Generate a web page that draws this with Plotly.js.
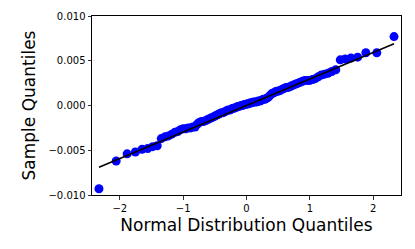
<!DOCTYPE html>
<html>
<head>
<meta charset="utf-8">
<script src="https://cdn.plot.ly/plotly-3.0.1.min.js"></script>
<style>html,body{margin:0;padding:0;background:#fff;}#chart{width:415px;height:249px;}</style>
</head>
<body>
<div id="chart"></div>
<script>
// Theoretical normal quantiles (x) and sorted sample values (y)
const theoreticalQuantiles = [
  -2.330, -2.058, -1.885, -1.755, -1.650, -1.560, -1.481, -1.410, -1.346, -1.287,
  -1.232, -1.180, -1.132, -1.086, -1.042, -1.000, -0.960, -0.921, -0.884, -0.848,
  -0.813, -0.779, -0.746, -0.714, -0.682, -0.651, -0.621, -0.591, -0.562, -0.533,
  -0.504, -0.477, -0.449, -0.422, -0.395, -0.368, -0.342, -0.316, -0.290, -0.264,
  -0.238, -0.213, -0.187, -0.162, -0.137, -0.112, -0.087, -0.062, -0.037, -0.012,
   0.012,  0.037,  0.062,  0.087,  0.112,  0.137,  0.162,  0.187,  0.213,  0.238,
   0.264,  0.290,  0.316,  0.342,  0.368,  0.395,  0.422,  0.449,  0.477,  0.504,
   0.533,  0.562,  0.591,  0.621,  0.651,  0.682,  0.714,  0.746,  0.779,  0.813,
   0.848,  0.884,  0.921,  0.960,  1.000,  1.042,  1.086,  1.132,  1.180,  1.232,
   1.287,  1.346,  1.410,  1.481,  1.560,  1.650,  1.755,  1.885,  2.058,  2.330
];
const sampleQuantiles = [
  -0.0093, -0.0062, -0.0054, -0.0052, -0.0049, -0.0048, -0.0046, -0.0045, -0.0037, -0.0035,
  -0.0034, -0.0032, -0.0030, -0.0029, -0.0027, -0.0026, -0.0026, -0.0025, -0.0025, -0.0024,
  -0.0024, -0.0021, -0.0019, -0.0018, -0.0018, -0.0017, -0.0016, -0.0015, -0.0014, -0.0013,
  -0.0012, -0.0011, -0.0010, -0.0009, -0.0008, -0.0008, -0.0007, -0.0006, -0.0005, -0.0005,
  -0.0004, -0.0003, -0.0003, -0.0002, -0.0001, -0.0001,  0.0000,  0.0000,  0.0001,  0.0001,
   0.0002,  0.0002,  0.0003,  0.0003,  0.0004,  0.0004,  0.0004,  0.0005,  0.0005,  0.0006,
   0.0007,  0.0007,  0.0008,  0.0009,  0.0011,  0.0013,  0.0014,  0.0015,  0.0016,  0.0016,
   0.0017,  0.0018,  0.0019,  0.0020,  0.0020,  0.0021,  0.0022,  0.0023,  0.0024,  0.0025,
   0.0026,  0.0027,  0.0028,  0.0028,  0.0028,  0.0029,  0.0030,  0.0032,  0.0034,  0.0035,
   0.0036,  0.0038,  0.0040,  0.0051,  0.0052,  0.0053,  0.0054,  0.0059,  0.0059,  0.0077
];
// Reference line endpoints
const lineX = [-2.330, 2.330];
const lineY = [-0.0069, 0.0069];
const xTicks = [-2, -1, 0, 1, 2];
const yTicks = [-0.010, -0.005, 0.000, 0.005, 0.010];

const font = 'DejaVu Sans, sans-serif';
const traces = [
  {x: theoreticalQuantiles, y: sampleQuantiles, type: 'scatter', mode: 'markers',
   marker: {color: '#0000ff', size: 9, line: {width: 0}}, hoverinfo: 'skip'},
  {x: lineX, y: lineY, type: 'scatter', mode: 'lines',
   line: {color: '#000000', width: 1.5}, hoverinfo: 'skip'}
];
const layout = {
  width: 415, height: 249,
  margin: {l: 92, r: 14, t: 16, b: 54},
  paper_bgcolor: '#ffffff', plot_bgcolor: '#ffffff',
  showlegend: false,
  font: {family: font, color: '#000000', size: 10},
  xaxis: {
    range: [-2.44, 2.44], tickvals: xTicks, ticks: 'outside', ticklen: 3.5, tickwidth: 0.8,
    tickcolor: '#000', showgrid: false, zeroline: false, showline: true, linecolor: '#000',
    linewidth: 1, mirror: true, tickfont: {size: 10, family: font},
    title: {text: 'Normal Distribution Quantiles', font: {size: 17, family: font}, standoff: 6}
  },
  yaxis: {
    range: [-0.010, 0.010], tickvals: yTicks, tickformat: '.3f', ticks: 'outside', ticklen: 3.5,
    tickwidth: 0.8, tickcolor: '#000', showgrid: false, zeroline: false, showline: true,
    linecolor: '#000', linewidth: 1, mirror: true, tickfont: {size: 10, family: font},
    title: {text: 'Sample Quantiles', font: {size: 17, family: font}, standoff: 8}
  }
};
Plotly.newPlot('chart', traces, layout, {staticPlot: true, displayModeBar: false});
</script>
</body>
</html>
